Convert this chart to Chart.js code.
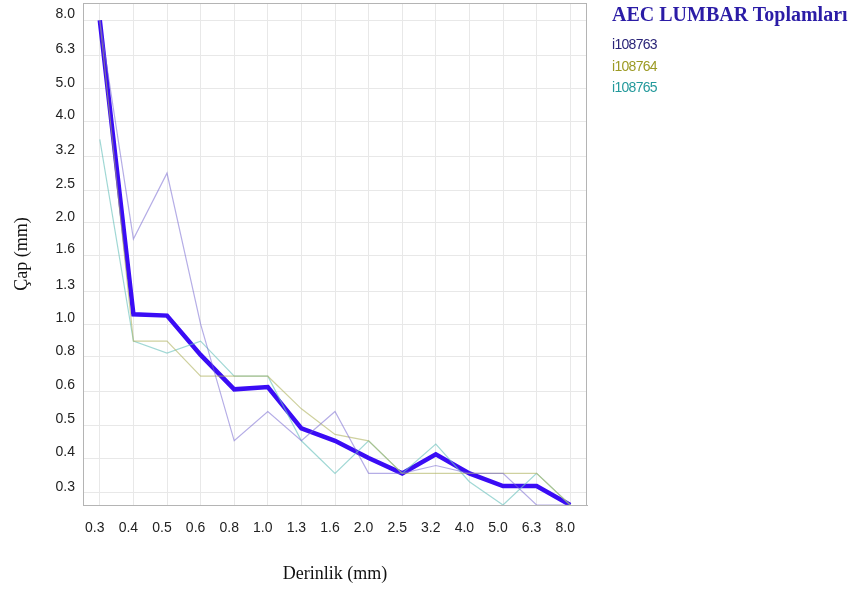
<!DOCTYPE html>
<html>
<head>
<meta charset="utf-8">
<script src="https://cdn.jsdelivr.net/npm/chart.js@4.4.1/dist/chart.umd.min.js"></script>
<style>
  body { margin: 0; background: #fff; }
  #wrap { position: absolute; left: 0; top: 0; width: 853px; height: 594px; }
  #legend { position: absolute; left: 612px; top: 3px; }
  #legend .title { font: bold 20px "Liberation Serif", serif; color: #2b1ca6; margin-bottom: 8px; }
  #legend .item { font: 14px "Liberation Sans", sans-serif; letter-spacing: -0.7px; height: 21.5px; line-height: 21.5px; }
</style>
</head>
<body>
<div id="wrap"><canvas id="chart"></canvas></div>
<div id="legend"></div>
<script>
// ===== Data =====
const depthLabels = ["0.3", "0.4", "0.5", "0.6", "0.8", "1.0", "1.3", "1.6", "2.0", "2.5", "3.2", "4.0", "5.0", "6.3", "8.0"];
const diameterTicks = [0.315, 0.4, 0.5, 0.63, 0.8, 1, 1.25, 1.6, 2, 2.5, 3.15, 4, 5, 6.3, 8];
const diameterTickLabels = ["0.3", "0.4", "0.5", "0.6", "0.8", "1.0", "1.3", "1.6", "2.0", "2.5", "3.2", "4.0", "5.0", "6.3", "8.0"];

const toplam  = [8.0, 1.07, 1.06, 0.81, 0.64, 0.65, 0.49, 0.45, 0.40, 0.36, 0.41, 0.36, 0.33, 0.33, 0.29];
const i108763 = [8.0, 1.79, 2.81, 1.0, 0.45, 0.55, 0.45, 0.55, 0.36, 0.36, 0.38, 0.36, 0.36, 0.29, 0.29];
const i108764 = [8.0, 0.89, 0.89, 0.70, 0.70, 0.70, 0.56, 0.47, 0.45, 0.36, 0.36, 0.36, 0.36, 0.36, 0.29];
const i108765 = [3.54, 0.89, 0.82, 0.89, 0.70, 0.70, 0.45, 0.36, 0.45, 0.36, 0.44, 0.34, 0.29, 0.36, 0.29];

const legendTitle = "AEC LUMBAR Toplamları";

// ===== Plugins =====
const frame = {
  id: "frame",
  afterDraw(chart) {
    const { ctx, chartArea: a } = chart;
    ctx.save();
    ctx.strokeStyle = "#b4b4b4";
    ctx.lineWidth = 1;
    ctx.strokeRect(a.left + 0.5, a.top + 0.5, a.right - a.left - 1, a.bottom - a.top);
    ctx.restore();
  }
};

const htmlLegend = {
  id: "htmlLegend",
  afterUpdate(chart) {
    const box = document.getElementById("legend");
    box.innerHTML = "";
    const title = document.createElement("div");
    title.className = "title";
    title.textContent = legendTitle;
    box.appendChild(title);
    chart.data.datasets.forEach(ds => {
      if (!ds.legendColor) return;
      const item = document.createElement("div");
      item.className = "item";
      item.style.color = ds.legendColor;
      item.textContent = ds.label;
      box.appendChild(item);
    });
  }
};

// ===== Chart =====
const thin = (label, data, line, text) => ({
  label, data,
  borderColor: line, legendColor: text,
  borderWidth: 1.2, pointRadius: 0, tension: 0, fill: false
});

new Chart(document.getElementById("chart"), {
  type: "line",
  data: {
    labels: depthLabels,
    datasets: [
      thin("i108763", i108763, "rgba(120,105,210,0.55)", "#2a2478"),
      thin("i108764", i108764, "rgba(175,178,95,0.6)", "#9c9a24"),
      thin("i108765", i108765, "rgba(110,195,190,0.65)", "#23999b"),
      { label: "Toplam", data: toplam, borderColor: "#3a0cf5", borderWidth: 4.5,
        pointRadius: 0, tension: 0, fill: false, borderJoinStyle: "miter" }
    ]
  },
  options: {
    responsive: true,
    maintainAspectRatio: false,
    animation: false,
    layout: { padding: { top: 3, right: 266, bottom: 0, left: 0 } },
    plugins: { legend: { display: false }, tooltip: { enabled: false } },
    scales: {
      x: {
        type: "category",
        offset: true,
        grid: { color: "#e8e8e8", drawTicks: false, offset: false },
        border: { color: "#b4b4b4" },
        ticks: { padding: 15, labelOffset: -5, color: "#222", autoSkip: false, maxRotation: 0,
                 font: { family: "Liberation Sans", size: 14 } },
        title: { display: true, text: "Derinlik (mm)", color: "#111",
                 font: { family: "Liberation Serif", size: 18 }, padding: { top: 0, bottom: 9 } },
        afterFit(scale) { scale.height = 89; scale.paddingLeft = 0; scale.paddingRight = 0; }
      },
      y: {
        type: "logarithmic",
        min: 0.29,
        max: 9.0,
        grid: { color: "#e8e8e8", drawTicks: false },
        border: { color: "#b4b4b4" },
        afterBuildTicks(scale) {
          scale.ticks = diameterTicks.map(v => ({ value: v }));
        },
        ticks: {
          padding: 8, labelOffset: -6, color: "#222",
          font: { family: "Liberation Sans", size: 14 },
          callback(value) {
            const i = diameterTicks.indexOf(value);
            return i >= 0 ? diameterTickLabels[i] : "";
          }
        },
        title: { display: true, text: "Çap (mm)", color: "#111",
                 font: { family: "Liberation Serif", size: 18 }, padding: { top: 11, bottom: 0 } },
        afterFit(scale) { scale.width = 83; scale.paddingTop = 0; scale.paddingBottom = 0; }
      }
    }
  },
  plugins: [frame, htmlLegend]
});
</script>
</body>
</html>
